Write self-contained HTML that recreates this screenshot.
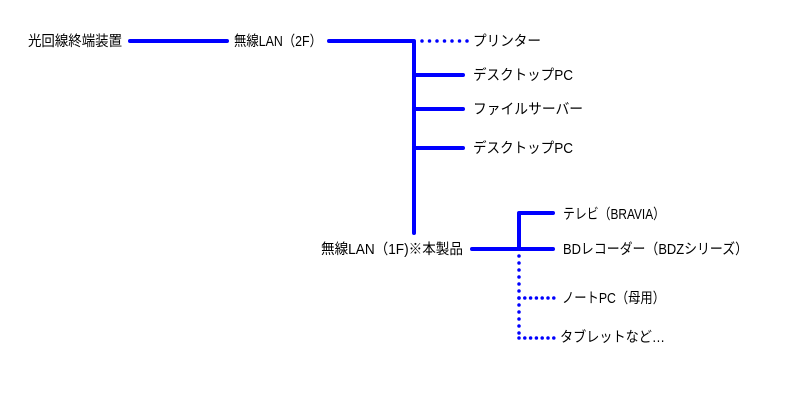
<!DOCTYPE html>
<html><head><meta charset="utf-8"><style>
html,body{margin:0;padding:0;background:#fff;}
svg{display:block;}
text{font-family:"Liberation Sans","Noto Sans CJK JP",sans-serif;font-size:14.5px;fill:#000;}
</style></head><body>
<svg width="800" height="400" viewBox="0 0 800 400" xmlns="http://www.w3.org/2000/svg">
<g stroke="#0000ff" stroke-width="4" stroke-linecap="round" stroke-linejoin="round" fill="none">
<path d="M130,41 H227"/>
<path d="M329,41 H414 V233"/>
<path d="M414,75 H463"/>
<path d="M414,109 H463"/>
<path d="M414,148 H463"/>
<path d="M472,249 H553"/>
<path d="M519,249 V213 H553"/>
</g>
<g stroke="#0000ff" stroke-width="3.5" stroke-linecap="round" fill="none">
<path d="M422,41 H468" stroke-dasharray="0 7.5"/>
<path d="M519,256 V340" stroke-dasharray="0 7"/>
<path d="M519,298 H554" stroke-dasharray="0 5.8"/>
<path d="M519,338 H554" stroke-dasharray="0 5.8"/>
</g>
<text x="28" y="46" textLength="94" lengthAdjust="spacingAndGlyphs">光回線終端装置</text>
<text x="234" y="46" textLength="88" lengthAdjust="spacingAndGlyphs">無線LAN（2F）</text>
<text x="473" y="46" textLength="68" lengthAdjust="spacingAndGlyphs">プリンター</text>
<text x="473" y="80" textLength="100" lengthAdjust="spacingAndGlyphs">デスクトップPC</text>
<text x="473" y="114" textLength="110" lengthAdjust="spacingAndGlyphs">ファイルサーバー</text>
<text x="473" y="153" textLength="100" lengthAdjust="spacingAndGlyphs">デスクトップPC</text>
<text x="321" y="254" textLength="142" lengthAdjust="spacingAndGlyphs">無線LAN（1F)※本製品</text>
<text x="563" y="219" textLength="102" lengthAdjust="spacingAndGlyphs">テレビ（BRAVIA）</text>
<text x="563" y="254" textLength="185" lengthAdjust="spacingAndGlyphs">BDレコーダー（BDZシリーズ）</text>
<text x="562" y="303" textLength="103" lengthAdjust="spacingAndGlyphs">ノートPC（母用）</text>
<text x="560" y="342" textLength="105" lengthAdjust="spacingAndGlyphs">タブレットなど…</text>
</svg>
</body></html>
